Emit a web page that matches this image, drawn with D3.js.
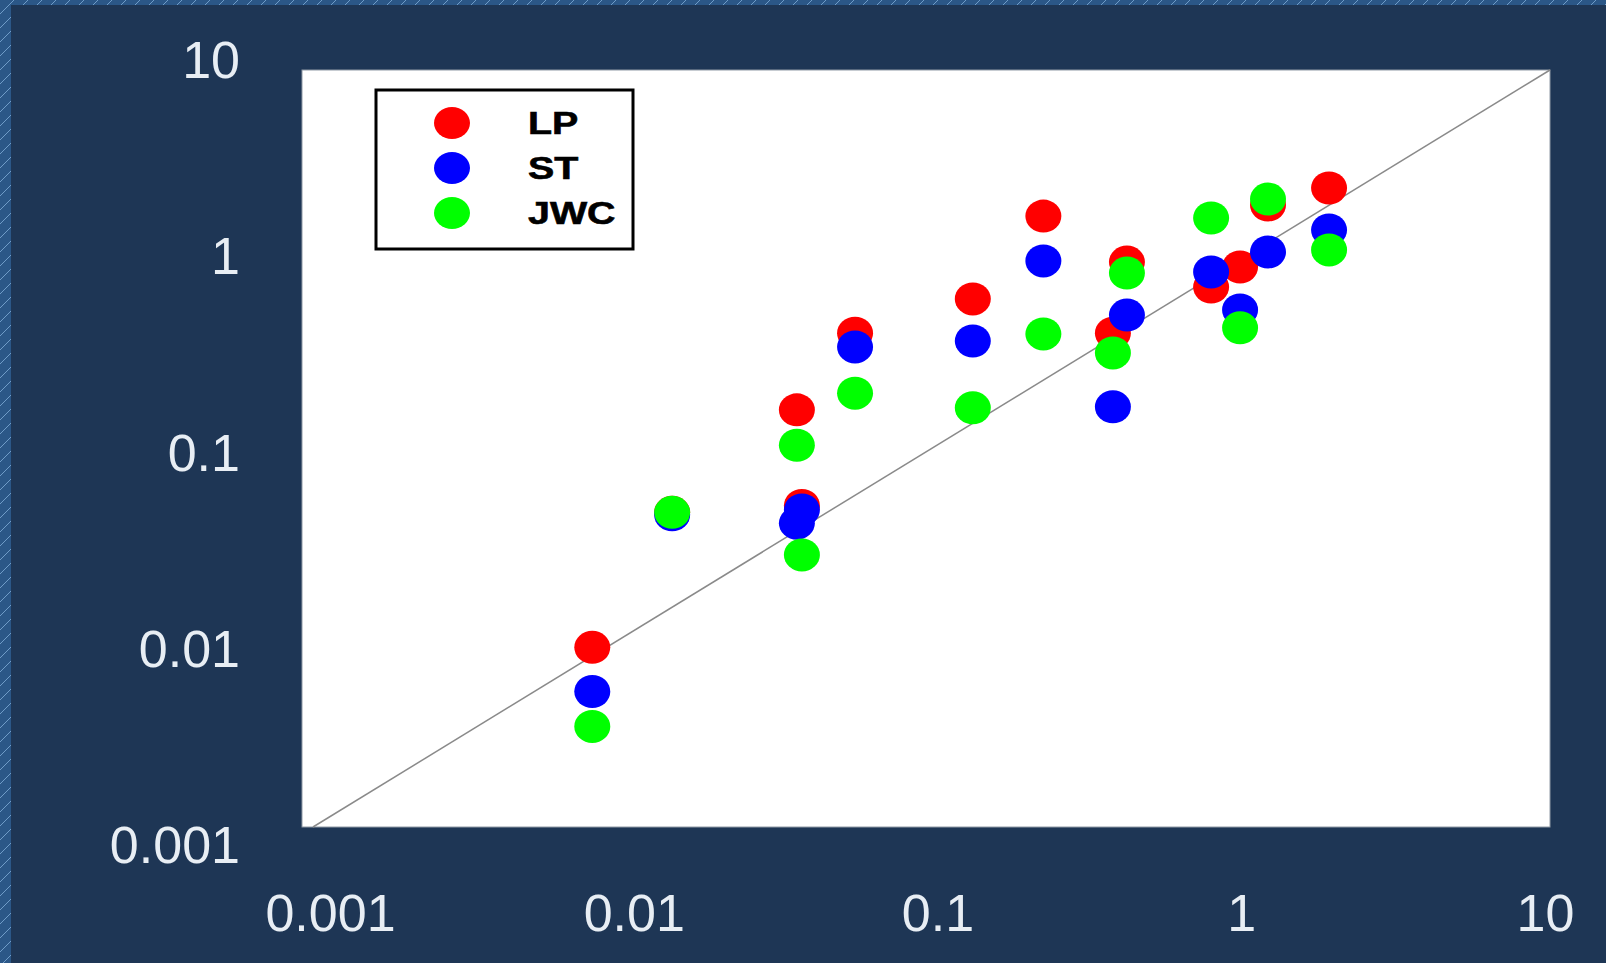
<!DOCTYPE html>
<html>
<head>
  <meta charset="utf-8">
  <title>LP ST JWC</title>
  <style type="text/css">
    body {
      margin: 0;
      background-color: #1e3655;
      overflow: hidden;
    }
    .axis text {
      fill: #e8eef4;
      font-family: "Liberation Sans", Arial, sans-serif;
      font-size: 52px;
    }
    .legend text {
      font-family: "Liberation Sans", Arial, sans-serif;
      font-weight: bold;
      font-size: 31px;
      fill: #000;
    }
  </style>
  <script src="https://d3js.org/d3.v7.min.js"></script>
</head>
<body>
<script>
// one x per sample, three measured series
var xValues   = [0.008, 0.0145, 0.0367, 0.0381, 0.0566, 0.136, 0.23, 0.4285, 0.386, 0.802, 0.995, 1.225, 1.93];
var lpValues  = [0.0089, 0.046, 0.16, 0.050, 0.407, 0.617, 1.69, 0.966, 0.407, 0.713, 0.91, 1.935, 2.38];
var stValues  = [0.0052, 0.0446, 0.0403, 0.0473, 0.344, 0.370, 0.98, 0.507, 0.166, 0.857, 0.540, 1.092, 1.428];
var jwcValues = [0.0034, 0.046, 0.104, 0.0274, 0.196, 0.164, 0.403, 0.845, 0.320, 1.652, 0.434, 2.08, 1.12];

var seriesNames  = ["LP", "ST", "JWC"];
var seriesColors = ["#ff0000", "#0000ff", "#00ff00"];
var tickValues = [0.001, 0.01, 0.1, 1, 10];
var tickLabels = ["0.001", "0.01", "0.1", "1", "10"];

var W = 1606, H = 963;
var svg = d3.select("body").append("svg")
  .attr("width", W)
  .attr("height", H);

// background + hatched strips on top and left
var defs = svg.append("defs");
var pat = defs.append("pattern")
  .attr("id", "hatch")
  .attr("patternUnits", "userSpaceOnUse")
  .attr("width", 14).attr("height", 14);
pat.append("rect").attr("width", 14).attr("height", 14).attr("fill", "#2b5787");
pat.append("path").attr("d", "M0,14 L14,0").attr("stroke", "#6f9cc8").attr("stroke-width", 1);

svg.append("rect").attr("width", W).attr("height", H).attr("fill", "#1e3655");
svg.append("rect").attr("width", W).attr("height", 5).attr("fill", "url(#hatch)");
svg.append("rect").attr("width", 11).attr("height", H).attr("fill", "url(#hatch)");

// data scales (the diagonal y = x runs corner to corner)
var x = d3.scaleLog().domain([0.001, 10]).range([313, 1550]);
var y = d3.scaleLog().domain([0.001, 10]).range([827, 70]);

// label scales: the labels sit a bit apart from the plot box
var xLab = d3.scaleLog().domain([0.001, 10]).range([330, 1545]);
var yLab = d3.scaleLog().domain([0.001, 10]).range([846, 61]);

svg.append("rect")
  .attr("x", 302).attr("y", y(10))
  .attr("width", x(10) - 302).attr("height", y(0.001) - y(10))
  .attr("fill", "#ffffff")
  .attr("stroke", "#8f99a5")
  .attr("stroke-width", 1);

svg.append("line")
  .attr("x1", x(0.001)).attr("y1", y(0.001))
  .attr("x2", x(10)).attr("y2", y(10))
  .attr("stroke", "#8a8a8a")
  .attr("stroke-width", 1.5);

var yAxis = d3.axisLeft(yLab)
  .tickValues(tickValues)
  .tickFormat(function(d, i) { return tickLabels[i]; })
  .tickSize(0).tickPadding(0);

svg.append("g")
  .attr("class", "axis")
  .attr("transform", "translate(240,0)")
  .call(yAxis)
  .call(function(g) { g.select(".domain").remove(); });

var xAxis = d3.axisBottom(xLab)
  .tickValues(tickValues)
  .tickFormat(function(d, i) { return tickLabels[i]; })
  .tickSize(0).tickPadding(0);

svg.append("g")
  .attr("class", "axis")
  .attr("transform", "translate(0,894)")
  .call(xAxis)
  .call(function(g) { g.select(".domain").remove(); });

// points, drawn LP first so JWC ends up on top
var allSeries = [lpValues, stValues, jwcValues];
allSeries.forEach(function(vals, s) {
  svg.append("g").selectAll("ellipse")
    .data(vals)
    .enter().append("ellipse")
      .attr("cx", function(d, i) { return x(xValues[i]); })
      .attr("cy", function(d) { return y(d); })
      .attr("rx", 18)
      .attr("ry", 16.5)
      .attr("fill", seriesColors[s]);
});

// legend
var legend = svg.append("g").attr("class", "legend");
legend.append("rect")
  .attr("x", 376).attr("y", 90)
  .attr("width", 257).attr("height", 159)
  .attr("fill", "#fff")
  .attr("stroke", "#000")
  .attr("stroke-width", 3);

var rows = legend.selectAll("g.row")
  .data(seriesNames)
  .enter().append("g")
    .attr("class", "row")
    .attr("transform", function(d, i) { return "translate(0," + (123 + i * 45) + ")"; });

rows.append("ellipse")
  .attr("cx", 452).attr("cy", 0)
  .attr("rx", 18).attr("ry", 16)
  .attr("fill", function(d, i) { return seriesColors[i]; });

// legend text is a bit stretched sideways in the original
rows.append("text")
  .attr("transform", "translate(528,0) scale(1.27,1)")
  .attr("dy", "0.36em")
  .style("stroke", "#000")
  .style("stroke-width", 0.6)
  .text(function(d) { return d; });
</script>
</body>
</html>
